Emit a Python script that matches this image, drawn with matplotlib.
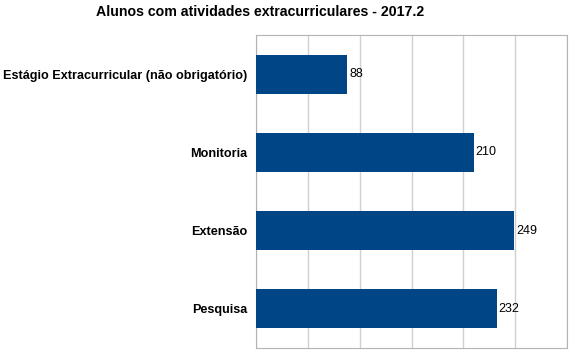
import matplotlib.pyplot as plt

categories = ['Pesquisa', 'Extensão', 'Monitoria', 'Estágio Extracurricular (não obrigatório)']
values = [232, 249, 210, 88]

plt.rcParams['font.family'] = 'Liberation Sans'

fig = plt.figure(figsize=(5.74, 3.52), dpi=100)
ax = fig.add_axes([256 / 574, 4 / 352, 311 / 574, 313 / 352])

pos = range(len(categories))
ax.barh(pos, values, height=0.5, color='#004586', zorder=3)
for p, v in zip(pos, values):
    ax.text(v + 2, p, str(v), va='center', ha='left', fontsize=9, zorder=4)

ax.set_xlim(0, 300)
ax.set_ylim(-0.5, len(categories) - 0.5)
ax.set_xticks(range(0, 301, 50))
ax.set_xticklabels([])
ax.tick_params(axis='x', length=0)
ax.set_yticks(list(pos))
ax.set_yticklabels(categories, fontweight='bold', fontsize=9.1)
ax.tick_params(axis='y', length=0, pad=6)
ax.grid(axis='x', color='#d0d0d0', linewidth=1, zorder=0)
for s in ax.spines.values():
    s.set_color('#b3b3b3')

fig.suptitle('Alunos com atividades extracurriculares - 2017.2', fontweight='bold',
             fontsize=10.2, x=0.453, y=0.985)

fig.savefig('out.png', dpi=100)
